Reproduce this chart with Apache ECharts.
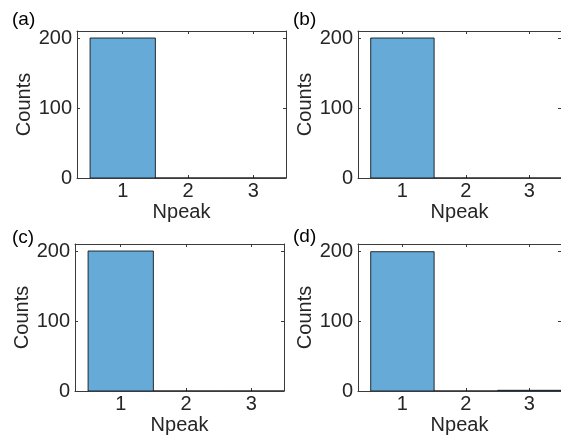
<!DOCTYPE html>
<html>
<head>
<meta charset="utf-8">
<script src="https://cdn.jsdelivr.net/npm/echarts@6/dist/echarts.min.js"></script>
<style>
  html, body { margin: 0; padding: 0; background: #fff; }
  #chart { width: 561px; height: 441px; }
</style>
</head>
<body>
<div id="chart"></div>
<script>
// histogram bins (Npeak) and counts per panel
var categories = [1, 2, 3];
var countsA = [200, 0, 0];
var countsB = [200, 0, 0];
var countsC = [200, 0, 0];
var countsD = [199, 0, 1];
var yTicks = [0, 100, 200];
var panelLabels = ['(a)', '(b)', '(c)', '(d)'];
var panelCounts = [countsA, countsB, countsC, countsD];

var FONT = 'Liberation Sans, Arial, sans-serif';
var TXT = '#262626';
var AX = '#3a3a3a';
var FS = 20;

// pixel boxes of the four axes
var boxes = [
    { left: 77,  top: 31,  width: 209, height: 147 },
    { left: 358, top: 31,  width: 209, height: 147 },
    { left: 75,  top: 244, width: 209, height: 147 },
    { left: 358, top: 244, width: 209, height: 147 }
];
var labelPos = [[12, 10], [293, 10], [12, 228], [293, 227]];

var grids = [], xAxes = [], yAxes = [], series = [], texts = [];

boxes.forEach(function(b, i){
    grids.push({ left: b.left, top: b.top, width: b.width, height: b.height, containLabel: false });
    var tickX = { show: true, inside: true, length: 3, customValues: categories, lineStyle: { color: AX, width: 1 } };
    var tickY = { show: true, inside: true, length: 3, customValues: yTicks, lineStyle: { color: AX, width: 1 } };
    // bottom axis
    xAxes.push({
        type: 'value', gridIndex: i, min: 0.3, max: 3.5, position: 'bottom',
        name: 'Npeak', nameLocation: 'middle', nameGap: 24,
        nameTextStyle: { fontFamily: FONT, fontSize: FS, color: TXT },
        axisLine: { show: true, onZero: false, lineStyle: { color: AX, width: 1 } },
        axisTick: tickX,
        axisLabel: { customValues: categories, margin: 3, fontFamily: FONT, fontSize: FS, color: TXT },
        splitLine: { show: false }
    });
    // top mirror
    xAxes.push({
        type: 'value', gridIndex: i, min: 0.3, max: 3.5, position: 'top',
        axisLine: { show: true, onZero: false, lineStyle: { color: AX, width: 1 } },
        axisTick: tickX, axisLabel: { show: false }, splitLine: { show: false }
    });
    // left axis
    yAxes.push({
        type: 'value', gridIndex: i, min: 0, max: 210, position: 'left',
        name: 'Counts', nameLocation: 'middle', nameGap: 38, nameRotate: 90,
        nameTextStyle: { fontFamily: FONT, fontSize: FS, color: TXT },
        axisLine: { show: true, onZero: false, lineStyle: { color: AX, width: 1 } },
        axisTick: tickY,
        axisLabel: { customValues: yTicks, margin: 5, fontFamily: FONT, fontSize: FS, color: TXT },
        splitLine: { show: false }
    });
    // right mirror
    yAxes.push({
        type: 'value', gridIndex: i, min: 0, max: 210, position: 'right',
        axisLine: { show: true, onZero: false, lineStyle: { color: AX, width: 1 } },
        axisTick: tickY, axisLabel: { show: false }, splitLine: { show: false }
    });

    var data = categories.map(function(c, k){ return [c, panelCounts[i][k]]; });
    series.push({
        type: 'custom',
        xAxisIndex: i * 2,
        yAxisIndex: i * 2,
        clip: true,
        data: data,
        renderItem: function(params, api){
            var x = api.value(0), y = api.value(1);
            var p0 = api.coord([x - 0.5, y]);
            var p1 = api.coord([x + 0.5, 0]);
            return {
                type: 'rect',
                shape: { x: p0[0], y: p0[1], width: p1[0] - p0[0], height: p1[1] - p0[1] },
                style: { fill: '#66AAD7', stroke: '#000', lineWidth: 0.8 }
            };
        }
    });

    texts.push({
        type: 'text', left: labelPos[i][0], top: labelPos[i][1],
        style: { text: panelLabels[i], fontFamily: FONT, fontSize: 19, fill: '#000' }
    });
});

var chart = echarts.init(document.getElementById('chart'), null, { renderer: 'canvas' });
chart.setOption({
    animation: false,
    backgroundColor: '#fff',
    grid: grids,
    xAxis: xAxes,
    yAxis: yAxes,
    series: series,
    graphic: texts
});
</script>
</body>
</html>
